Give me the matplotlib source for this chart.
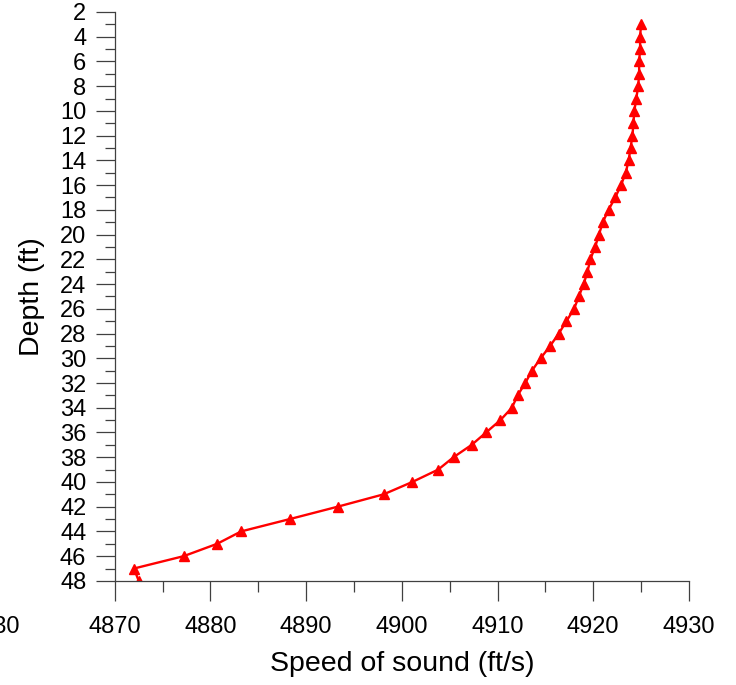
import matplotlib
matplotlib.use("Agg")
import matplotlib.pyplot as plt
from matplotlib.ticker import MultipleLocator

plt.rcParams['font.family'] = ['Liberation Sans', 'DejaVu Sans']

# sound speed profile, one reading per foot of depth
depth = list(range(3, 49))
speed = [4925.0, 4924.9, 4924.9, 4924.8, 4924.8, 4924.7, 4924.5, 4924.3,
         4924.2, 4924.1, 4923.9, 4923.7, 4923.4, 4922.9, 4922.3, 4921.6,
         4921.0, 4920.6, 4920.2, 4919.7, 4919.4, 4919.0, 4918.5, 4918.0,
         4917.2, 4916.4, 4915.5, 4914.5, 4913.6, 4912.9, 4912.1, 4911.5,
         4910.3, 4908.8, 4907.3, 4905.4, 4903.8, 4901.1, 4898.1, 4893.3,
         4888.3, 4883.2, 4880.7, 4877.2, 4872.0, 4872.5]

xticks = [4870, 4880, 4890, 4900, 4910, 4920, 4930]
yticks = list(range(2, 49, 2))

fig = plt.figure(figsize=(7.36, 6.85), dpi=100)
ax = fig.add_axes([0.156, 0.152, 0.78, 0.8305])

ax.plot(speed, depth, color='red', lw=1.7, marker='^', ms=7, mec='red', mfc='red')

ax.set_xlim(4870, 4930)
ax.set_ylim(48, 2)
ax.set_xticks(xticks)
ax.set_yticks(yticks)
ax.xaxis.set_minor_locator(MultipleLocator(5))
ax.yaxis.set_minor_locator(MultipleLocator(1))

for s in ['top', 'right']:
    ax.spines[s].set_visible(False)
for s in ['left', 'bottom']:
    ax.spines[s].set_color('#404040')
    ax.spines[s].set_linewidth(0.9)

ax.tick_params(axis='x', which='major', length=14.5, width=0.9, color='#404040',
               labelsize=17, pad=11)
ax.tick_params(axis='x', which='minor', length=8, width=0.9, color='#404040')
ax.tick_params(axis='y', which='major', length=13.5, width=0.9, color='#404040',
               labelsize=17, pad=7)
ax.tick_params(axis='y', which='minor', length=7, width=0.9, color='#404040')

ax.set_xlabel('Speed of sound (ft/s)', fontsize=20.5, labelpad=9)
ax.set_ylabel('Depth (ft)', fontsize=20.5, labelpad=11)

# tail of the neighbouring panel's axis label
fig.text(20 / 736, 1 - 633 / 685, '4930', fontsize=17, ha='right', va='baseline')

fig.savefig('out.png', dpi=100)
